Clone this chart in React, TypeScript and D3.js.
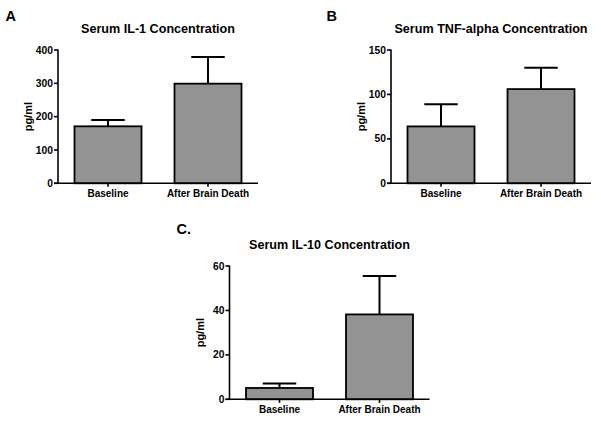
import React from "react";
import * as d3 from "d3";

const categories = ["Baseline", "After Brain Death"];

const il1Means = [171, 299];
const il1Errors = [19, 80];
const il1Ticks = [0, 100, 200, 300, 400];

const tnfMeans = [64, 106];
const tnfErrors = [25, 24];
const tnfTicks = [0, 50, 100, 150];

const il10Means = [5.1, 38.2];
const il10Errors = [2, 17.3];
const il10Ticks = [0, 20, 40, 60];

const titles = [
  "Serum IL-1 Concentration",
  "Serum TNF-alpha Concentration",
  "Serum IL-10 Concentration",
];
const panelLetters = ["A", "B", "C."];
const yLabel = "pg/ml";

const FONT = "'Liberation Sans', Arial, Helvetica, sans-serif";

type PanelProps = {
  x0: number;
  yTop: number;
  title: string;
  letter: string;
  letterX: number;
  letterY: number;
  means: number[];
  errors: number[];
  ticks: number[];
};

const W = 200;
const H = 133.3;

function Panel({ x0, yTop, title, letter, letterX, letterY, means, errors, ticks }: PanelProps) {
  const yMax = ticks[ticks.length - 1];
  const y = d3.scaleLinear().domain([0, yMax]).range([yTop + H, yTop]);
  const x = d3
    .scaleBand<string>()
    .domain(categories)
    .range([x0, x0 + W])
    .paddingInner(0.33)
    .paddingOuter(0.165);
  const bw = x.bandwidth();
  const y0 = y(0);
  return (
    <g>
      <text x={letterX} y={letterY} fontFamily={FONT} fontWeight="bold" fontSize={14.5} fill="#000">
        {letter}
      </text>
      <text
        x={x0 + W / 2}
        y={yTop - 17}
        textAnchor="middle"
        fontFamily={FONT}
        fontWeight="bold"
        fontSize={12.6}
        fill="#000"
      >
        {title}
      </text>
      {means.map((m, i) => {
        const cx = (x(categories[i]) as number) + bw / 2;
        const top = y(m);
        const et = y(m + errors[i]);
        return (
          <g key={i}>
            <line x1={cx} x2={cx} y1={top} y2={et} stroke="#000" strokeWidth={2} />
            <line x1={cx - bw / 4} x2={cx + bw / 4} y1={et} y2={et} stroke="#000" strokeWidth={2} />
            <rect
              x={x(categories[i]) as number}
              y={top}
              width={bw}
              height={y0 - top}
              fill="#939393"
              stroke="#000"
              strokeWidth={1.8}
            />
          </g>
        );
      })}
      <line x1={x0} x2={x0} y1={yTop - 0.5} y2={y0} stroke="#000" strokeWidth={1.6} />
      <line x1={x0 - 4} x2={x0 + W} y1={y0} y2={y0} stroke="#000" strokeWidth={1.6} />
      {ticks.map((t) => (
        <g key={t}>
          <line x1={x0 - 4} x2={x0} y1={y(t)} y2={y(t)} stroke="#000" strokeWidth={1.6} />
          <text
            x={x0 - 5}
            y={y(t) + 3.6}
            textAnchor="end"
            fontFamily={FONT}
            fontWeight="bold"
            fontSize={10.3}
            fill="#000"
          >
            {t}
          </text>
        </g>
      ))}
      {categories.map((c) => {
        const cx = (x(c) as number) + bw / 2;
        return (
          <g key={c}>
            <line x1={cx} x2={cx} y1={y0} y2={y0 + 3.5} stroke="#000" strokeWidth={1.6} />
            <text
              x={cx}
              y={y0 + 14}
              textAnchor="middle"
              fontFamily={FONT}
              fontWeight="bold"
              fontSize={10}
              fill="#000"
            >
              {c}
            </text>
          </g>
        );
      })}
      <text
        transform={`translate(${x0 - 26},${yTop + H / 2}) rotate(-90)`}
        textAnchor="middle"
        fontFamily={FONT}
        fontWeight="bold"
        fontSize={11}
        fill="#000"
      >
        {yLabel}
      </text>
    </g>
  );
}

export default function App() {
  return (
    <svg
      width={601}
      height={423}
      style={{ position: "absolute", left: 0, top: 0, background: "#fff" }}
    >
      <rect x={0} y={0} width={601} height={423} fill="#fff" />
      <Panel
        x0={58}
        yTop={50}
        title={titles[0]}
        letter={panelLetters[0]}
        letterX={5.5}
        letterY={21}
        means={il1Means}
        errors={il1Errors}
        ticks={il1Ticks}
      />
      <Panel
        x0={391}
        yTop={50}
        title={titles[1]}
        letter={panelLetters[1]}
        letterX={326.5}
        letterY={21}
        means={tnfMeans}
        errors={tnfErrors}
        ticks={tnfTicks}
      />
      <Panel
        x0={229.5}
        yTop={266}
        title={titles[2]}
        letter={panelLetters[2]}
        letterX={176.5}
        letterY={234}
        means={il10Means}
        errors={il10Errors}
        ticks={il10Ticks}
      />
    </svg>
  );
}
